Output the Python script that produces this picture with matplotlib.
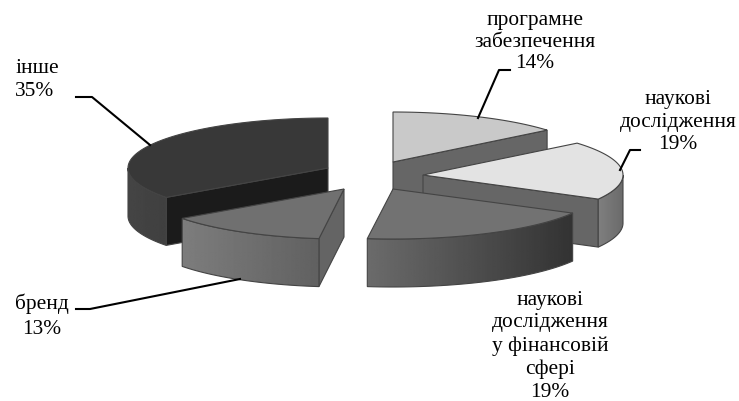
import numpy as np
import matplotlib
matplotlib.use('Agg')
import matplotlib.pyplot as plt
from matplotlib.patches import Polygon

plt.rcParams['font.family'] = ['Liberation Serif', 'DejaVu Serif']

names = ['програмне\nзабезпечення', 'наукові\nдослідження',
         'наукові\nдослідження\nу фінансовій\nсфері', 'бренд', 'інше']
shares = [14, 19, 19, 13, 35]

# exploded slice centres and radii
apex_x = [393, 423, 393, 344, 328]
apex_y = [162, 175, 189, 189, 168]
radius_x = [200, 200, 205, 200, 200]
top_col = ['#c9c9c9', '#e3e3e3', '#727272', '#707070', '#383838']
cut_col = ['#666666', '#666666', '#555555', '#646464', '#1b1b1b']
# wall shading from the left end of a wall to its right end
wall_left = [0.45, 0.50, 0.42, 0.49, 0.27]
wall_right = [0.40, 0.42, 0.20, 0.38, 0.25]

RY, DEPTH = 50, 48
EDGE = '#444444'

fig = plt.figure(figsize=(7.39, 4.01), dpi=100)
ax = fig.add_axes([0, 0, 1, 1])

ends = np.cumsum(shares) * 3.6
starts = ends - np.array(shares) * 3.6


def rim(i, t):
    t = np.radians(t)
    return apex_x[i] + radius_x[i] * np.sin(t), apex_y[i] - RY * np.cos(t)


def draw_slice(i, z):
    cx, cy = apex_x[i], apex_y[i]
    t0, t1 = starts[i], ends[i]
    # side faces along the cuts, only those turned towards the viewer
    for t, sign in ((t0, -1), (t1, 1)):
        if sign * np.sin(np.radians(t)) > 1e-6:
            x, y = rim(i, t)
            ax.add_patch(Polygon([(cx, cy), (x, y), (x, y + DEPTH), (cx, cy + DEPTH)],
                                 fc=cut_col[i], ec=EDGE, lw=0.8, zorder=z))
    # outer wall with a horizontal gradient clipped to its outline
    a, b = max(t0, 90), min(t1, 270)
    if b > a:
        tt = np.linspace(a, b, 80)
        x, y = rim(i, tt)
        outline = np.column_stack([np.r_[x, x[::-1]], np.r_[y, y[::-1] + DEPTH]])
        wall = Polygon(outline, fc='none', ec=EDGE, lw=0.8, zorder=z + 0.1)
        ax.add_patch(wall)
        grad = np.linspace(wall_left[i], wall_right[i], 128).reshape(1, -1)
        im = ax.imshow(grad, cmap='gray', vmin=0, vmax=1, aspect='auto', zorder=z,
                       extent=(x.min(), x.max(), y.max() + DEPTH, y.min()))
        im.set_clip_path(wall)
    # top face
    tt = np.linspace(t0, t1, 80)
    x, y = rim(i, tt)
    pts = np.column_stack([np.r_[cx, x], np.r_[cy, y]])
    ax.add_patch(Polygon(pts, fc=top_col[i], ec=EDGE, lw=0.8, zorder=z + 0.2))


# back to front
for z, i in enumerate([4, 0, 1, 3, 2]):
    draw_slice(i, z + 1)

ax.set_xlim(0, 739)
ax.set_ylim(401, 0)
ax.axis('off')

# leader lines
ax.plot([76, 92, 150], [97, 97, 145], color='k', lw=1.5, zorder=10)
ax.plot([76, 90, 240], [309, 309, 279], color='k', lw=1.5, zorder=10)
ax.plot([510, 499, 478], [70, 70, 118], color='k', lw=1.5, zorder=10)
ax.plot([640, 630, 620], [150, 150, 170], color='k', lw=1.5, zorder=10)

tx = dict(fontsize=15.4, color='k', ha='center', va='bottom', zorder=11)
ax.text(535, 73, f'{names[0]}\n{shares[0]}%', multialignment='center', linespacing=1.17, **tx)
ax.text(678, 154, f'{names[1]}\n{shares[1]}%', multialignment='center', linespacing=1.25, **tx)
ax.text(550, 402, f'{names[2]}\n{shares[2]}%', multialignment='center', linespacing=1.27, **tx)
ax.text(42, 339, f'{names[3]}\n{shares[3]}%', multialignment='center', linespacing=1.4, **tx)
ax.text(37, 101, f'{names[4]}\n{shares[4]}%', multialignment='left', linespacing=1.27, **tx)

fig.savefig('out.png', dpi=100)
